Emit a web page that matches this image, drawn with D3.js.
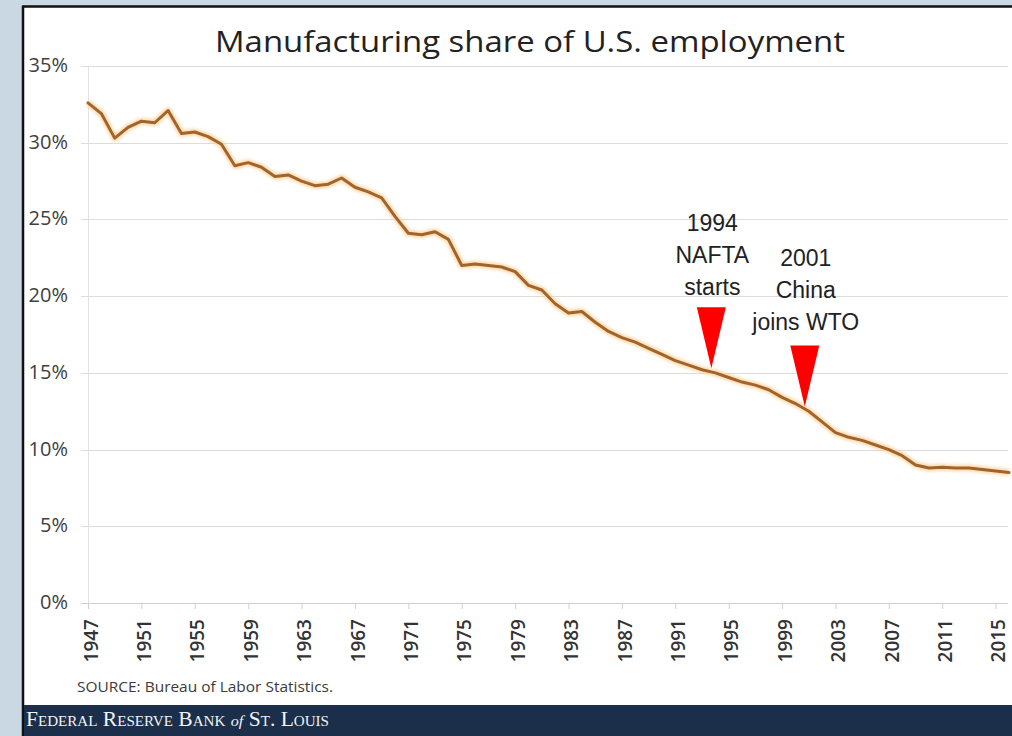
<!DOCTYPE html>
<html>
<head>
<meta charset="utf-8">
<script src="https://cdn.jsdelivr.net/npm/d3@7"></script>
<style>
  html, body { margin: 0; padding: 0; background: #cad8e4; }
  svg { display: block; }
</style>
</head>
<body>
<svg id="chart" width="1012" height="736"></svg>
<script>
// Manufacturing employment as a share of total nonfarm employment, annual
const years = d3.range(1947, 2017);
const sharePct = [
  32.6, 31.9, 30.3, 31.0, 31.4, 31.3, 32.1, 30.6, 30.7, 30.4,
  29.9, 28.5, 28.7, 28.4, 27.8, 27.9, 27.5, 27.2, 27.3, 27.7,
  27.1, 26.8, 26.4, 25.2, 24.1, 24.0, 24.2, 23.7, 22.0, 22.1,
  22.0, 21.9, 21.6, 20.7, 20.4, 19.5, 18.9, 19.0, 18.3, 17.7,
  17.3, 17.0, 16.6, 16.2, 15.8, 15.5, 15.2, 15.0, 14.7, 14.4,
  14.2, 13.9, 13.4, 13.0, 12.5, 11.8, 11.1, 10.8, 10.6, 10.3,
  10.0, 9.6, 9.0, 8.8, 8.85, 8.8, 8.8, 8.7, 8.6, 8.5
];
const yTicks = [0, 5, 10, 15, 20, 25, 30, 35];
const xTickYears = d3.range(1947, 2016, 4);

// Event annotations: year, text lines, and the share the pointer touches
const eventYears = [1994, 2001];
const eventLabels = [["1994", "NAFTA", "starts"], ["2001", "China", "joins WTO"]];
const eventTipPct = [15.3, 12.8];

const titleText = "Manufacturing share of U.S. employment";
const sourceText = "SOURCE: Bureau of Labor Statistics.";

const svg = d3.select("#chart");

// framed white panel
svg.append("rect").attr("x", 22).attr("y", 6).attr("width", 1000).attr("height", 740)
  .attr("fill", "#ffffff");
svg.append("line").attr("x1", 22).attr("x2", 1012).attr("y1", 6.5).attr("y2", 6.5)
  .attr("stroke", "#111").attr("stroke-width", 2.5);
svg.append("line").attr("x1", 23).attr("x2", 23).attr("y1", 6).attr("y2", 736)
  .attr("stroke", "#111").attr("stroke-width", 2.5);

const x = d3.scaleLinear().domain([1947, 2016]).range([88, 1009]);
const y = d3.scaleLinear().domain([0, 35]).range([603, 66]);

// horizontal gridlines
svg.append("g").selectAll("line").data(yTicks).join("line")
  .attr("x1", 81).attr("x2", 1008)
  .attr("y1", d => Math.round(y(d)) + 0.5).attr("y2", d => Math.round(y(d)) + 0.5)
  .attr("stroke", d => d === 0 ? "#cfcfcf" : "#dcdcdc").attr("stroke-width", 1.2);

// vertical axis line
svg.append("line").attr("x1", 88.5).attr("x2", 88.5).attr("y1", y(35)).attr("y2", y(0))
  .attr("stroke", "#e2e2e2").attr("stroke-width", 1);

// y tick labels
svg.append("g").selectAll("text").data(yTicks).join("text")
  .attr("x", 68).attr("y", d => y(d) + 6)
  .attr("text-anchor", "end")
  .attr("font-family", "'Open Sans', sans-serif").attr("font-size", 20)
  .attr("fill", "#404040")
  .text(d => d + "%");

// x ticks and rotated year labels
const xAxis = d3.axisBottom(x).tickValues(xTickYears).tickSize(6).tickFormat("");
const gx = svg.append("g").attr("transform", `translate(0,${y(0)})`).call(xAxis);
gx.select(".domain").remove();
gx.selectAll(".tick line").attr("stroke", "#d0d0d0");

svg.append("g").selectAll("text").data(xTickYears).join("text")
  .attr("transform", d => `translate(${x(d) + 3},619) rotate(-90)`)
  .attr("text-anchor", "end").attr("dy", "0.35em")
  .attr("font-family", "'Open Sans', sans-serif").attr("font-size", 19)
  .attr("font-weight", 600).attr("fill", "#333")
  .text(d => d);

// title
svg.append("text").attr("x", 530).attr("y", 52).attr("text-anchor", "middle")
  .attr("font-family", "'Open Sans', sans-serif").attr("font-size", 30)
  .attr("fill", "#222").attr("textLength", 630).attr("lengthAdjust", "spacingAndGlyphs")
  .text(titleText);

// series line with soft glow underneath
const lineGen = d3.line().x((d, i) => x(years[i])).y(d => y(d));
const defs = svg.append("defs");
defs.append("filter").attr("id", "glow").attr("x", "-5%").attr("y", "-5%")
  .attr("width", "110%").attr("height", "110%")
  .append("feGaussianBlur").attr("stdDeviation", 1.6);
svg.append("path").datum(sharePct).attr("d", lineGen)
  .attr("fill", "none").attr("stroke", "#f9d39b").attr("stroke-width", 7)
  .attr("stroke-linejoin", "round").attr("opacity", 0.8).attr("filter", "url(#glow)");
svg.append("path").datum(sharePct).attr("d", lineGen)
  .attr("fill", "none").attr("stroke", "#a3642c").attr("stroke-width", 3)
  .attr("stroke-linejoin", "round").attr("stroke-linecap", "round");

// event pointers and labels
eventYears.forEach((yr, i) => {
  const tx = x(yr) - 4;
  const ty = y(eventTipPct[i]);
  svg.append("path")
    .attr("d", `M${tx - 14.5},${ty - 61}L${tx + 14.5},${ty - 61}L${tx},${ty}Z`)
    .attr("fill", "#ff0000");
  const lines = eventLabels[i];
  const lastBaseline = ty - 61 - 12 - (i === 1 ? 4 : 0);
  lines.forEach((t, j) => {
    svg.append("text")
      .attr("x", tx + 1).attr("y", lastBaseline - (lines.length - 1 - j) * 32)
      .attr("text-anchor", "middle")
      .attr("font-family", "'Liberation Sans', Arial, sans-serif").attr("font-size", 23)
      .attr("fill", "#222")
      .text(t);
  });
});

// source note
svg.append("text").attr("x", 77).attr("y", 692)
  .attr("font-family", "'Open Sans', sans-serif").attr("font-size", 14)
  .attr("fill", "#3a3a3a").attr("textLength", 256).attr("lengthAdjust", "spacingAndGlyphs")
  .text(sourceText);

// footer band
svg.append("rect").attr("x", 24).attr("y", 705).attr("width", 990).attr("height", 31)
  .attr("fill", "#1b2f4b");
const footer = svg.append("text").attr("x", 26).attr("y", 726)
  .attr("font-family", "'Liberation Serif', 'DejaVu Serif', serif").attr("font-size", 20)
  .attr("fill", "#f2f4f6").attr("textLength", 303).attr("lengthAdjust", "spacingAndGlyphs");
footer.append("tspan").style("font-variant", "small-caps").text("Federal Reserve Bank ");
footer.append("tspan").attr("font-style", "italic").attr("font-size", 15).text("of");
footer.append("tspan").style("font-variant", "small-caps").text(" St. Louis");
</script>
</body>
</html>
